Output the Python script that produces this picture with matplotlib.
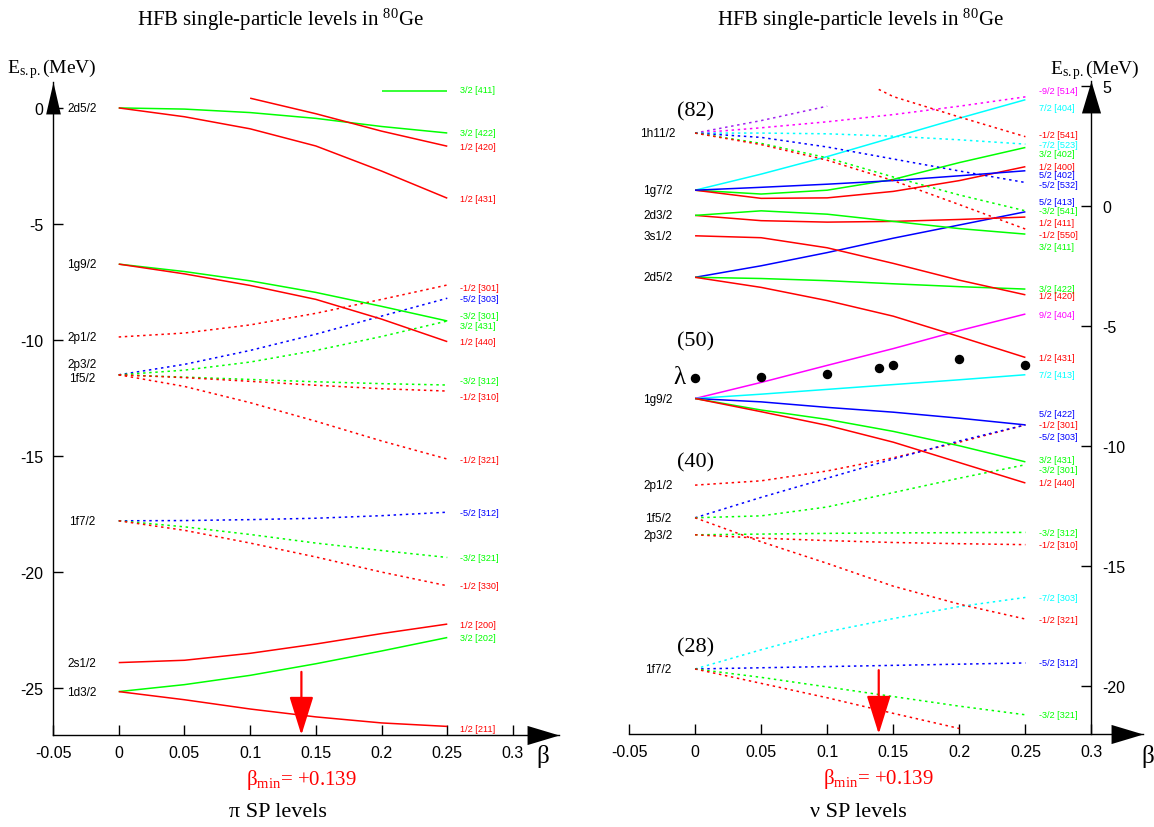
import numpy as np
import matplotlib.pyplot as plt

plt.rcParams['font.family'] = ['Liberation Sans', 'DejaVu Sans']
plt.rcParams['mathtext.fontset'] = 'custom'
plt.rcParams['mathtext.rm'] = 'Liberation Serif'
plt.rcParams['mathtext.it'] = 'Liberation Serif:italic'
SERIF = ['Liberation Serif', 'DejaVu Serif']

W, H = 1154, 828

# ---------------- data ----------------
beta_p = [0.0, 0.05, 0.10, 0.15, 0.20, 0.25]
beta_n = [0.0, 0.05, 0.10, 0.139, 0.15, 0.20, 0.25]
beta_min = 0.139
xtick_vals = [-0.05, 0.0, 0.05, 0.1, 0.15, 0.2, 0.25, 0.3]
xtick_labels = ["-0.05", "0", "0.05", "0.1", "0.15", "0.2", "0.25", "0.3"]
p_yticks = [0, -5, -10, -15, -20, -25]
n_yticks = [5, 0, -5, -10, -15, -20]

# protons: spherical levels at beta = 0
p_level_name = ["2d5/2", "1g9/2", "2p1/2", "2p3/2", "1f5/2", "1f7/2", "2s1/2", "1d3/2"]
p_level_e = [0.0, -6.73, -9.87, -11.5, -11.5, -17.79, -23.9, -25.15]

# protons: Nilsson levels vs beta
p_orbit = ["3/2 [411]", "3/2 [422]", "1/2 [420]", "1/2 [431]", "-1/2 [301]", "-5/2 [303]",
           "-3/2 [301]", "3/2 [431]", "1/2 [440]", "-3/2 [312]", "-1/2 [310]", "-1/2 [321]",
           "-5/2 [312]", "-3/2 [321]", "-1/2 [330]", "1/2 [200]", "3/2 [202]", "1/2 [211]"]
p_energy = [
    [None, None, None, None, 0.72, 0.72],
    [0.0, -0.05, -0.2, -0.45, -0.8, -1.08],
    [None, None, 0.42, -0.25, -1.0, -1.65],
    [0.0, -0.38, -0.9, -1.64, -2.72, -3.89],
    [-9.87, -9.7, -9.35, -8.85, -8.25, -7.63],
    [-11.5, -11.05, -10.45, -9.75, -8.97, -8.2],
    [-11.5, -11.3, -10.95, -10.45, -9.85, -9.18],
    [-6.73, -7.05, -7.45, -7.95, -8.55, -9.18],
    [-6.73, -7.15, -7.65, -8.25, -9.1, -10.07],
    [-11.5, -11.6, -11.7, -11.8, -11.88, -11.94],
    [-11.5, -11.62, -11.78, -11.95, -12.1, -12.2],
    [-11.5, -12.0, -12.7, -13.5, -14.35, -15.13],
    [-17.79, -17.78, -17.74, -17.68, -17.57, -17.42],
    [-17.79, -18.05, -18.38, -18.75, -19.07, -19.37],
    [-17.79, -18.2, -18.75, -19.35, -20.0, -20.59],
    [-23.9, -23.8, -23.5, -23.1, -22.65, -22.24],
    [-25.15, -24.85, -24.45, -23.95, -23.4, -22.82],
    [-25.15, -25.5, -25.9, -26.24, -26.5, -26.65],
]
p_omega_sign = ["g", "g", "r", "r", "r", "b", "g", "g", "r", "g", "r", "r", "b", "g", "r", "r", "g", "r"]
p_dotted = [False, False, False, False, True, True, True, False, False, True, True, True,
            True, True, True, False, False, False]

# neutrons: spherical levels at beta = 0
n_level_name = ["1h11/2", "1g7/2", "2d3/2", "3s1/2", "2d5/2", "1g9/2", "2p1/2", "1f5/2", "2p3/2", "1f7/2"]
n_level_e = [3.03, 0.65, -0.4, -1.25, -2.98, -8.03, -11.64, -13.0, -13.71, -19.3]

n_orbit = ["", "-9/2 [514]", "7/2 [404]", "-1/2 [541]", "-7/2 [523]", "3/2 [402]", "1/2 [400]",
           "5/2 [402]", "-5/2 [532]", "5/2 [413]", "-3/2 [541]", "1/2 [411]", "-1/2 [550]",
           "3/2 [411]", "3/2 [422]", "1/2 [420]", "9/2 [404]", "1/2 [431]", "7/2 [413]",
           "5/2 [422]", "-1/2 [301]", "-5/2 [303]", "3/2 [431]", "-3/2 [301]", "1/2 [440]",
           "-3/2 [312]", "-1/2 [310]", "-7/2 [303]", "-1/2 [321]", "-5/2 [312]", "-3/2 [321]", ""]
n_energy = [
    [3.03, 3.55, 4.15, None, None, None, None],
    [3.03, 3.25, 3.5, None, 3.8, 4.15, 4.54],
    [0.65, 1.32, 2.05, None, 2.85, 3.65, 4.42],
    [None, None, None, 4.85, 4.55, 3.7, 2.88],
    [3.03, 3.03, 3.0, None, 2.9, 2.75, 2.57],
    [0.65, 0.49, 0.65, None, 1.1, 1.8, 2.43],
    [0.65, 0.31, 0.33, None, 0.6, 1.05, 1.63],
    [0.65, 0.77, 0.9, None, 1.05, 1.25, 1.46],
    [3.03, 2.85, 2.45, None, 1.95, 1.45, 0.97],
    [-2.98, -2.5, -1.95, None, -1.35, -0.8, -0.25],
    [3.03, 2.6, 2.0, None, 1.2, 0.45, -0.21],
    [-0.4, -0.62, -0.68, None, -0.65, -0.57, -0.47],
    [3.03, 2.55, 1.9, None, 1.05, 0.05, -0.97],
    [-0.4, -0.21, -0.35, None, -0.65, -0.95, -1.18],
    [-2.98, -3.03, -3.12, None, -3.25, -3.37, -3.47],
    [-1.25, -1.33, -1.75, None, -2.4, -3.1, -3.71],
    [-8.03, -7.36, -6.65, None, -5.95, -5.2, -4.51],
    [-2.98, -3.4, -3.95, None, -4.6, -5.45, -6.32],
    [-8.03, -7.85, -7.65, None, -7.45, -7.25, -7.04],
    [-8.03, -8.17, -8.4, None, -8.6, -8.85, -9.13],
    [-11.64, -11.46, -11.05, None, -10.5, -9.85, -9.13],
    [-13.0, -12.15, -11.35, None, -10.55, -9.8, -9.13],
    [-8.03, -8.51, -8.9, None, -9.4, -10.0, -10.67],
    [-13.0, -12.92, -12.55, None, -11.95, -11.35, -10.79],
    [-8.03, -8.58, -9.15, None, -9.85, -10.7, -11.55],
    [-13.71, -13.68, -13.65, None, -13.63, -13.62, -13.61],
    [-13.71, -13.85, -13.95, None, -14.03, -14.08, -14.12],
    [-19.3, -18.5, -17.75, None, -17.2, -16.7, -16.32],
    [-13.0, -14.0, -14.9, None, -15.85, -16.6, -17.22],
    [-19.3, -19.25, -19.2, None, -19.15, -19.1, -19.05],
    [-19.3, -19.65, -20.05, None, -20.45, -20.85, -21.21],
    [-19.3, -19.9, -20.5, None, -21.15, -21.78, None],
]
n_omega_sign = ["v", "m", "c", "r", "c", "g", "r", "b", "b", "b", "g", "r", "r", "g", "g", "r",
                "m", "r", "c", "b", "r", "b", "g", "g", "r", "g", "r", "c", "r", "b", "g", "r"]
n_dotted = [True, True, False, True, True, False, False, False, True, False, True, False, True,
            False, False, False, False, False, False, False, True, True, False, True, False,
            True, True, True, True, True, True, True]

# Fermi level (lambda) for neutrons
lam_beta = [0.0, 0.05, 0.10, 0.139, 0.15, 0.20, 0.25]
lam_e = [-7.19, -7.15, -6.99, -6.74, -6.65, -6.4, -6.65]

shell_name = ["(82)", "(50)", "(40)", "(28)"]
shell_e = [3.96, -5.63, -10.69, -18.36]

# ---------------- styles / label nudges (points) ----------------
COLORS = {"r": "#ff0000", "g": "#00ff00", "b": "#0000ff", "c": "#00ffff",
          "m": "#ff00ff", "v": "#a020f0"}
p_level_nudge = {"2p3/2": 8, "1f5/2": -2}
p_label_nudge = {0: 1, 4: -2, 6: 4.3, 7: -3.4, 9: 3.6, 10: -4.1, 17: -1.4}
n_label_nudge = {1: 4.3, 2: -5.8, 3: 1.9, 5: -4.1, 7: -2.9, 8: -1.2, 9: 7.2, 11: -3.8,
                 12: -4.1, 13: -8.9, 14: 0.6, 15: -0.6, 19: 8.4, 21: -8.1, 22: 1.6, 23: -3.2}

fig = plt.figure(figsize=(W / 100, H / 100), dpi=100)


def px_axes(x0, y0, x1, y1):
    return fig.add_axes([x0 / W, 1 - y1 / H, (x1 - x0) / W, (y1 - y0) / H])


ax_p = px_axes(53, 82.7, 559, 736)
ax_n = px_axes(629, 82, 1143, 735)
ax_p.set_xlim(-0.05, 0.335)
ax_p.set_ylim(-27.02, 1.13)
ax_n.set_xlim(-0.05, 0.339)
ax_n.set_ylim(-22.01, 5.2)

DASH = (0, (1.6, 2.4))


def draw_lines(ax, beta, energy, csign, dotted, orbit, nudges):
    for i, ev in enumerate(energy):
        pts = [(b, e) for b, e in zip(beta, ev) if e is not None]
        xs, ys = zip(*pts)
        col = COLORS[csign[i]]
        ax.plot(xs, ys, color=col, lw=1.1, ls=DASH if dotted[i] else '-',
                solid_capstyle='butt')
        if orbit[i]:
            ax.annotate(orbit[i], (0.26, ys[-1]), xytext=(0, nudges.get(i, 0)),
                        textcoords='offset points', ha='left', va='center',
                        color=col, fontsize=6.6)


draw_lines(ax_p, beta_p, p_energy, p_omega_sign, p_dotted, p_orbit, p_label_nudge)
draw_lines(ax_n, beta_n, n_energy, n_omega_sign, n_dotted, n_orbit, n_label_nudge)

for name, e in zip(p_level_name, p_level_e):
    ax_p.annotate(name, (-0.028, e), xytext=(0, p_level_nudge.get(name, 0)),
                  textcoords='offset points', ha='center', va='center', fontsize=8.5)
for name, e in zip(n_level_name, n_level_e):
    ax_n.annotate(name, (-0.028, e), ha='center', va='center', fontsize=8.5)

for name, e in zip(shell_name, shell_e):
    ax_n.text(0.0, e, name, ha='center', va='center', fontsize=16, family=SERIF)
ax_n.plot(lam_beta, lam_e, 'o', color='k', ms=5.8, ls='none')
ax_n.text(-0.012, lam_e[0] + 0.05, "λ", ha='center', va='center', fontsize=18, family=SERIF)

# axes cosmetics
for ax, yt in ((ax_p, p_yticks), (ax_n, n_yticks)):
    ax.set_xticks(xtick_vals)
    ax.set_xticklabels(xtick_labels)
    ax.set_yticks(yt)
    ax.set_yticklabels([str(v) for v in yt])
    ax.tick_params(direction='in', length=7, width=1, labelsize=11.5, pad=7)
    ax.spines['top'].set_visible(False)
    for s in ax.spines.values():
        s.set_linewidth(1.0)

ax_p.spines['right'].set_visible(False)
ax_n.spines['left'].set_visible(False)
ax_n.spines['right'].set_position(('data', 0.3))
ax_n.yaxis.tick_right()
ax_n.tick_params(axis='y', direction='in', pad=8)

# arrow heads on axes
right_tip = [(0, 0), (-1, 0.3), (-1, -0.3), (0, 0)]
up_tip = [(0, 0), (0.3, -1), (-0.3, -1), (0, 0)]
up_tip_narrow = [(0, 0), (0.23, -1), (-0.23, -1), (0, 0)]
ax_p.plot([1], [0], marker=right_tip, ms=46, color='k', mew=0, transform=ax_p.transAxes, clip_on=False)
ax_p.plot([0], [1], marker=up_tip_narrow, ms=46, color='k', mew=0, transform=ax_p.transAxes, clip_on=False)
ax_n.plot([1], [0], marker=right_tip, ms=46, color='k', mew=0, transform=ax_n.transAxes, clip_on=False)
ax_n.plot([0.3], [1], marker=up_tip, ms=46, color='k', mew=0,
          transform=ax_n.get_xaxis_transform(), clip_on=False)

# beta_min arrows
for ax, top in ((ax_p, -24.3), (ax_n, -19.35)):
    bottom = ax.get_ylim()[0]
    ax.annotate('', xy=(beta_min, bottom), xytext=(beta_min, top),
                arrowprops=dict(arrowstyle='-|>,head_length=24,head_width=7.5',
                                color='#ff0000', lw=1.6, mutation_scale=1,
                                shrinkA=0, shrinkB=0), annotation_clip=False)
    ax.annotate(r"β$_{\rm min}$= +0.139", xy=(beta_min, 0), xycoords=('data', 'axes fraction'),
                xytext=(0, -32), textcoords='offset points', ha='center', va='center',
                color='#ff0000', fontsize=15, family=SERIF)

# titles and labels
title = r"HFB single-particle levels in $^{80}$Ge"
ylab = r"E$_{\rm s{.}p{.}}$(MeV)"
fig.text(280 / W, 1 - 20 / H, title, ha='center', va='center', fontsize=15, family=SERIF)
fig.text(860 / W, 1 - 20 / H, title, ha='center', va='center', fontsize=15, family=SERIF)
fig.text(52 / W, 1 - 69 / H, ylab, ha='center', va='center', fontsize=14, family=SERIF)
fig.text(1095 / W, 1 - 70 / H, ylab, ha='center', va='center', fontsize=14, family=SERIF)
fig.text(543 / W, 1 - 757 / H, "β", ha='center', va='center', fontsize=18, family=SERIF)
fig.text(1148 / W, 1 - 757 / H, "β", ha='center', va='center', fontsize=18, family=SERIF)
fig.text(278 / W, 1 - 813 / H, "π SP levels", ha='center', va='center', fontsize=16, family=SERIF)
fig.text(858 / W, 1 - 813 / H, "ν SP levels", ha='center', va='center', fontsize=16, family=SERIF)

fig.savefig("out.png", dpi=100)
